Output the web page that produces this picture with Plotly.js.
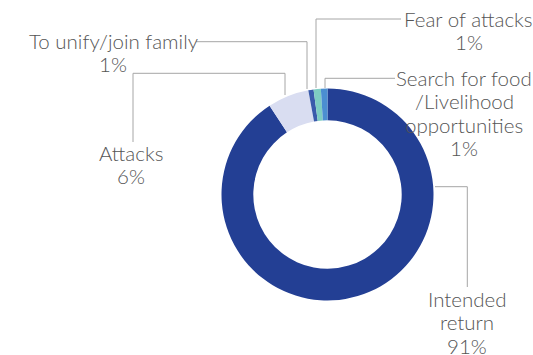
<!DOCTYPE html>
<html>
<head>
<meta charset="utf-8">
<script src="https://cdn.plot.ly/plotly-3.0.1.min.js"></script>
<style>html,body{margin:0;padding:0;background:#fff;}#chart{width:533px;height:355px;}</style>
</head>
<body>
<div id="chart"></div>
<script>
// Data
var categories = ["Intended return", "Attacks", "To unify/join family", "Fear of attacks", "Search for food /Livelihood opportunities"];
var values = [90.8, 6.3, 0.8, 1.1, 1.0];
var shownPct = ["91%", "6%", "1%", "1%", "1%"];
var labelLines = [["Intended", "return"], ["Attacks"], ["To unify/join family"], ["Fear of attacks"], ["Search for food", "/Livelihood", "opportunities"]];
var colors = ["#233f94", "#d9ddf1", "#3a5bab", "#7ecdc2", "#4b8fd1"];

var W = 533, H = 355;
function fx(px){ return px / W; }
function fy(py){ return 1 - py / H; }

// layout positions (pixels)
var cx = 327.5, cy = 194.5, R = 106;
var labelPos = [[467, 299], [131, 153], [113, 41], [469, 19], [464, 78]];
var lineGap = 23.3;
var leaders = [
  [[435,186.7],[467.3,186.7],[467.3,287]],
  [[285,95],[285,73.3],[133,73.3],[133,142]],
  [[307,89],[307,41.7],[196,41.7]],
  [[316,88],[316,19],[401,19]],
  [[325,88],[325,78.3],[395,78.3]]
];

var shapes = leaders.map(function(pts){
  var d = pts.map(function(p,i){ return (i ? "L" : "M") + fx(p[0]) + "," + fy(p[1]); }).join(" ");
  return {type:"path", xref:"paper", yref:"paper", path:d, line:{color:"#a6a6a6", width:1}};
});

var annotations = [];
categories.forEach(function(c, i){
  var lines = labelLines[i].concat([shownPct[i]]);
  lines.forEach(function(t, k){
    annotations.push({
      xref:"paper", yref:"paper", x: fx(labelPos[i][0]), y: fy(labelPos[i][1] + k*lineGap),
      xanchor:"center", yanchor:"middle", align:"center", showarrow:false,
      text: t,
      font:{family:"Lato, 'Open Sans', sans-serif", size:20.5, weight:300, color:"#555555"}
    });
  });
});

var trace = {
  type:"pie",
  labels: categories,
  values: values,
  hole: 0.7,
  sort: false,
  direction: "clockwise",
  rotation: 0,
  textinfo: "none",
  hoverinfo: "label+percent",
  marker:{colors: colors, line:{width:0}},
  domain:{x:[fx(cx-R), fx(cx+R)], y:[fy(cy+R), fy(cy-R)]},
  showlegend:false
};

var layout = {
  width: W, height: H,
  margin:{l:0, r:0, t:0, b:0},
  paper_bgcolor:"#ffffff",
  showlegend:false,
  shapes: shapes,
  annotations: annotations
};

Plotly.newPlot("chart", [trace], layout, {displayModeBar:false, staticPlot:true});
</script>
</body>
</html>
